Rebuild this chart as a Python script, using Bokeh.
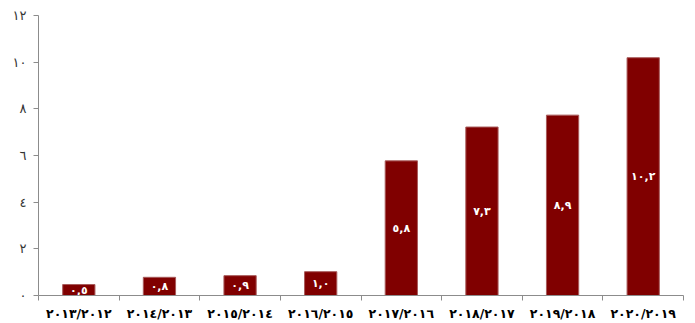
from bokeh.plotting import figure
from bokeh.models import Range1d, FixedTicker, ColumnDataSource
from bokeh.core.properties import value
from bokeh.embed import file_html
from bokeh.resources import INLINE

categories = ["٢٠١٣/٢٠١٢", "٢٠١٤/٢٠١٣", "٢٠١٥/٢٠١٤", "٢٠١٦/٢٠١٥",
              "٢٠١٧/٢٠١٦", "٢٠١٨/٢٠١٧", "٢٠١٩/٢٠١٨", "٢٠٢٠/٢٠١٩"]
heights = [0.47, 0.78, 0.85, 1.02, 5.77, 7.22, 7.73, 10.19]
value_labels = ["٠,٥", "٠,٨", "٠,٩", "١,٠", "٥,٨", "٧,٣", "٨,٩", "١٠,٢"]
y_ticks = [0, 2, 4, 6, 8, 10, 12]
y_tick_labels = ["٠", "٢", "٤", "٦", "٨", "١٠", "١٢"]

n = len(categories)
xs = [i + 0.5 for i in range(n)]
src = ColumnDataSource(dict(x=xs, top=heights, mid=[h / 2 for h in heights], lab=value_labels))

p = figure(width=695, height=323, output_backend="svg", toolbar_location=None,
           x_range=Range1d(0, n), y_range=Range1d(0, 12),
           min_border_left=38, min_border_right=12, min_border_top=15, min_border_bottom=27)
p.outline_line_color = None
p.xgrid.visible = False
p.ygrid.visible = False
p.background_fill_color = "white"
p.border_fill_color = "white"

p.vbar(x="x", top="top", width=0.4, bottom=0, source=src,
       fill_color="#800000", line_color="#a85a5a", line_width=1)
p.text(x="x", y="mid", text="lab", source=src, text_align="center", text_baseline="middle",
       text_color="white", text_font=value("DejaVu Sans"), text_font_style="bold",
       text_font_size="11px")

# x axis
p.xaxis.ticker = FixedTicker(ticks=xs, minor_ticks=list(range(n + 1)))
p.xaxis.major_label_overrides = {x: c for x, c in zip(xs, categories)}
p.xaxis.major_tick_out = 0
p.xaxis.major_tick_in = 0
p.xaxis.minor_tick_out = 5
p.xaxis.minor_tick_in = 0
p.xaxis.axis_line_color = "#8c8c8c"
p.xaxis.minor_tick_line_color = "#8c8c8c"
p.xaxis.major_label_standoff = 5
p.xaxis.major_label_text_font = "DejaVu Sans"
p.xaxis.major_label_text_font_style = "bold"
p.xaxis.major_label_text_font_size = "12.5px"
p.xaxis.major_label_text_color = "black"

# y axis
p.yaxis.ticker = FixedTicker(ticks=y_ticks, minor_ticks=[])
p.yaxis.major_label_overrides = {t: l for t, l in zip(y_ticks, y_tick_labels)}
p.yaxis.major_tick_out = 5
p.yaxis.major_tick_in = 0
p.yaxis.minor_tick_out = 0
p.yaxis.minor_tick_in = 0
p.yaxis.axis_line_color = "#8c8c8c"
p.yaxis.major_tick_line_color = "#8c8c8c"
p.yaxis.major_label_standoff = 7
p.yaxis.major_label_text_font = "DejaVu Sans"
p.yaxis.major_label_text_font_size = "13px"
p.yaxis.major_label_text_color = "#333333"

open("out.html", "w").write(file_html(p, INLINE))
